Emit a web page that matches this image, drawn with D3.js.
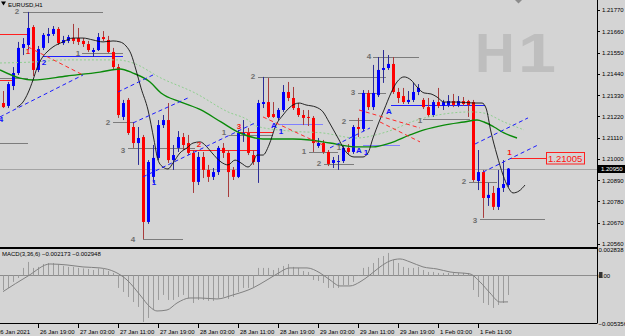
<!DOCTYPE html>
<html>
<head>
<meta charset="utf-8">
<title>EURUSD,H1</title>
<script src="https://cdn.jsdelivr.net/npm/d3@7/dist/d3.min.js"></script>
<style>
  body { margin: 0; background: #d4d4d4; }
  svg { display: block; font-family: "Liberation Sans", Arial, sans-serif; }
  .axis text { font-size: 6px; fill: #000; }
  .axis line { stroke: #000; shape-rendering: crispEdges; }
  .mark { font-size: 8px; font-weight: bold; }
</style>
</head>
<body>
<svg id="chart" width="625" height="336"></svg>
<script>
// hourly bars, index 0 = 26 Jan 12:00, weekend skipped after index 83
const opens = [
  1.21289, 1.21274, 1.21377, 1.21444, 1.21574, 1.21589, 1.21682, 1.21460, 1.21574, 1.21636,
  1.21646, 1.21672, 1.21599, 1.21610, 1.21625, 1.21625, 1.21610, 1.21594, 1.21553, 1.21563,
  1.21630, 1.21615, 1.21553, 1.21475, 1.21217, 1.21305, 1.21165, 1.21082, 1.21113, 1.20674,
  1.20907, 1.21005, 1.21175, 1.21201, 1.20994, 1.21057, 1.21113, 1.21082, 1.21031, 1.20881,
  1.21010, 1.20943, 1.20907, 1.20932, 1.21057, 1.21031, 1.20943, 1.20907, 1.21129, 1.21134,
  1.21020, 1.20984, 1.21284, 1.21294, 1.21232, 1.21212, 1.21253, 1.21346, 1.21315, 1.21263,
  1.21227, 1.21217, 1.21212, 1.21067, 1.21082, 1.21036, 1.20979, 1.20984, 1.20989, 1.21057,
  1.21036, 1.21165, 1.21155, 1.21341, 1.21268, 1.21330, 1.21460, 1.21470, 1.21491, 1.21346,
  1.21325, 1.21294, 1.21305, 1.21346, 1.21305, 1.21268, 1.21227, 1.21294, 1.21274, 1.21279,
  1.21299, 1.21279, 1.21299, 1.21299, 1.21294, 1.20886, 1.20932, 1.20798, 1.20824, 1.20752,
  1.20850, 1.20865
];
const highs = [
  1.21351, 1.21398, 1.21475, 1.21605, 1.21625, 1.21760, 1.21692, 1.21584, 1.21651, 1.21677,
  1.21687, 1.21682, 1.21636, 1.21641, 1.21698, 1.21677, 1.21625, 1.21610, 1.21574, 1.21651,
  1.21661, 1.21636, 1.21574, 1.21491, 1.21305, 1.21315, 1.21191, 1.21165, 1.21124, 1.20994,
  1.21072, 1.21201, 1.21227, 1.21289, 1.21072, 1.21144, 1.21134, 1.21124, 1.21046, 1.21036,
  1.21036, 1.20969, 1.20953, 1.21067, 1.21082, 1.21046, 1.20958, 1.21150, 1.21201, 1.21160,
  1.21046, 1.21305, 1.21424, 1.21418, 1.21294, 1.21263, 1.21382, 1.21398, 1.21372, 1.21289,
  1.21253, 1.21253, 1.21222, 1.21108, 1.21098, 1.21046, 1.21010, 1.21020, 1.21072, 1.21077,
  1.21175, 1.21212, 1.21356, 1.21356, 1.21486, 1.21527, 1.21563, 1.21537, 1.21527, 1.21367,
  1.21367, 1.21351, 1.21393, 1.21387, 1.21315, 1.21315, 1.21305, 1.21367, 1.21305, 1.21330,
  1.21336, 1.21325, 1.21320, 1.21305, 1.21305, 1.21046, 1.20943, 1.20876, 1.20860, 1.20943,
  1.20994, 1.20953
];
const lows = [
  1.21263, 1.21263, 1.21356, 1.21434, 1.21537, 1.21563, 1.21429, 1.21449, 1.21563, 1.21599,
  1.21636, 1.21589, 1.21589, 1.21599, 1.21594, 1.21589, 1.21579, 1.21553, 1.21527, 1.21558,
  1.21610, 1.21548, 1.21460, 1.21212, 1.21201, 1.21124, 1.21057, 1.20969, 1.20586, 1.20664,
  1.20876, 1.20994, 1.21160, 1.20979, 1.20943, 1.21036, 1.21046, 1.21020, 1.20824, 1.20865,
  1.20901, 1.20881, 1.20891, 1.20917, 1.21005, 1.20803, 1.20891, 1.20901, 1.21088, 1.21020,
  1.20969, 1.20876, 1.21263, 1.21212, 1.21212, 1.21201, 1.21243, 1.21299, 1.21253, 1.21217,
  1.21175, 1.21170, 1.21036, 1.21057, 1.21026, 1.20963, 1.20953, 1.20943, 1.20979, 1.21026,
  1.21026, 1.21113, 1.21144, 1.21253, 1.21253, 1.21320, 1.21393, 1.21460, 1.21336, 1.21289,
  1.21284, 1.21284, 1.21294, 1.21330, 1.21258, 1.21217, 1.21217, 1.21263, 1.21253, 1.21268,
  1.21268, 1.21268, 1.21274, 1.21217, 1.20881, 1.20839, 1.20695, 1.20757, 1.20736, 1.20736,
  1.20829, 1.20855
];
const closes = [
  1.21268, 1.21387, 1.21444, 1.21574, 1.21594, 1.21677, 1.21460, 1.21568, 1.21641, 1.21646,
  1.21672, 1.21599, 1.21615, 1.21630, 1.21610, 1.21605, 1.21594, 1.21563, 1.21563, 1.21630,
  1.21620, 1.21553, 1.21475, 1.21227, 1.21289, 1.21134, 1.21082, 1.21108, 1.20674, 1.20984,
  1.21005, 1.21175, 1.21201, 1.20994, 1.21020, 1.21113, 1.21072, 1.21031, 1.20881, 1.21010,
  1.20943, 1.20907, 1.20932, 1.21057, 1.21031, 1.20932, 1.20907, 1.21134, 1.21134, 1.21031,
  1.20984, 1.21289, 1.21294, 1.21217, 1.21217, 1.21253, 1.21346, 1.21315, 1.21263, 1.21227,
  1.21212, 1.21212, 1.21082, 1.21082, 1.21036, 1.20974, 1.20994, 1.20989, 1.21057, 1.21036,
  1.21165, 1.21155, 1.21341, 1.21268, 1.21341, 1.21460, 1.21470, 1.21491, 1.21346, 1.21315,
  1.21294, 1.21305, 1.21346, 1.21367, 1.21268, 1.21227, 1.21294, 1.21274, 1.21294, 1.21299,
  1.21279, 1.21299, 1.21284, 1.21279, 1.20891, 1.20932, 1.20798, 1.20814, 1.20752, 1.20850,
  1.20870, 1.20950
];

// MACD(3,36,6) main values per bar (drawn as histogram)
const macdMain = [
  -0.00162, -0.00139, -0.00072, -0.00028, 0.00084, 0.00151, 0.00084, 0.00095, 0.00128, 0.00139,
  0.00139, 0.00128, 0.00106, 0.00095, 0.00095, 0.00084, 0.00078, 0.00072, 0.00061, 0.00078,
  0.00072, 0.00050, 0.00028, -0.00139, -0.00184, -0.00240, -0.00296, -0.00351, -0.00519, -0.00474,
  -0.00385, -0.00273, -0.00217, -0.00273, -0.00273, -0.00240, -0.00217, -0.00251, -0.00307, -0.00273,
  -0.00273, -0.00284, -0.00284, -0.00251, -0.00240, -0.00262, -0.00240, -0.00184, -0.00139, -0.00139,
  -0.00128, 0.00084, 0.00084, 0.00084, 0.00061, 0.00084, 0.00106, 0.00128, 0.00095, 0.00084,
  0.00050, 0.00039, -0.00050, -0.00061, -0.00084, -0.00139, -0.00139, -0.00139, -0.00106, -0.00106,
  -0.00072, -0.00006, 0.00084, 0.00095, 0.00139, 0.00195, 0.00217, 0.00251, 0.00173, 0.00139,
  0.00095, 0.00084, 0.00084, 0.00095, 0.00061, 0.00039, 0.00039, 0.00028, 0.00028, 0.00028,
  0.00028, 0.00028, 0.00028, 0.00028, -0.00162, -0.00240, -0.00307, -0.00329, -0.00362, -0.00329,
  -0.00307, -0.002173
];
// signal line, read at these bar positions
const signalBars = [0, 5, 9.4, 12.8, 16, 19.4, 22.4, 24.8, 27.4, 29.4, 30.8, 32.8, 34.8, 37.4, 39.4, 42.8, 46, 50, 52.8, 54.8,
  57.4, 60.8, 63.4, 65.4, 67.4, 69.4, 71.4, 73.4, 75.4, 77.4, 79.4, 81.4, 84, 86.8, 89.4, 93.4, 95.4, 97.4, 99.4, 101];
const signalVals = [-0.00180, -0.00006, 0.00128, 0.00117, 0.00095, 0.00084, 0.00039, -0.00050, -0.00217, -0.00351,
  -0.00396, -0.00385, -0.00307, -0.00251, -0.00251, -0.00262, -0.00217, -0.00139, -0.00050, 0.00017,
  0.00084, 0.00084, 0.00028, -0.00050, -0.00117, -0.00117, -0.00072, 0.00006, 0.00095, 0.00162,
  0.00184, 0.00151, 0.00095, 0.00072, 0.00039, 0.00017, -0.00072, -0.00195, -0.00296, -0.002948];

// moving averages and the smoothed black line, read at these bar positions
const greenBars = [-0.6, 3.4, 6, 12.8, 19.4, 23.4, 26, 29.4, 31.6, 35.6, 39.6, 43.6, 47.4, 52, 58, 61.4, 65.4, 70.8, 74, 77.4,
  81.4, 84.2, 88.2, 92.2, 94.8, 96.2, 98.2, 100.2, 102.8];
const greenVals = [1.21460, 1.21418, 1.21408, 1.21429, 1.21449, 1.21465, 1.21444, 1.21398, 1.21341, 1.21294,
  1.21253, 1.21191, 1.21134, 1.21103, 1.21103, 1.21098, 1.21082, 1.21062, 1.21062, 1.21082,
  1.21124, 1.21150, 1.21175, 1.21191, 1.21201, 1.21191, 1.21165, 1.21134, 1.21108];
const dottedBars = [-0.6, 6, 12.8, 19.4, 22.8, 26, 31.6, 38.4, 45, 49, 50.6, 57.4, 64, 70.6, 76.6, 82.8, 89.6, 93.6, 96.2, 100.2, 104.2];
const dottedVals = [1.21496, 1.21501, 1.21512, 1.21512, 1.21512, 1.21496, 1.21418, 1.21341, 1.21243, 1.21201,
  1.21170, 1.21144, 1.21134, 1.21108, 1.21139, 1.21201, 1.21237, 1.21243, 1.21237, 1.21191, 1.21150];
const blackBars = [2.8, 4, 5, 6, 6.8, 7.8, 8.8, 10, 12, 14, 16, 18, 20, 22, 23.4, 24.6, 25.6, 26.6, 27.6, 29,
  30.2, 31, 32, 33, 34, 35.4, 36.8, 38, 39.4, 40.6, 41.8, 43.6, 45, 46.4, 47.6, 49, 50, 50.8, 52, 53.2,
  54.6, 56, 57.2, 59.2, 60.6, 62.6, 64, 65.2, 67, 68.6, 70.2, 72, 73, 74, 75.2, 76.2, 77.6, 78.8, 80.2, 81.6,
  82.8, 84.2, 85.6, 86.8, 88.2, 90.8, 94.2, 95.8, 96.6, 97.6, 98.8, 100, 101, 102, 103.2, 104.4];
const blackVals = [1.21268, 1.21294, 1.21341, 1.21408, 1.21470, 1.21522, 1.21553, 1.21579, 1.21605, 1.21625,
  1.21625, 1.21615, 1.21605, 1.21610, 1.21605, 1.21584, 1.21543, 1.21460, 1.21367, 1.21253,
  1.21098, 1.20994, 1.20958, 1.20948, 1.20979, 1.21031, 1.21057, 1.21082, 1.21088, 1.21067,
  1.21031, 1.20984, 1.20969, 1.20994, 1.20979, 1.20958, 1.20984, 1.21020, 1.21020, 1.21072,
  1.21175, 1.21227, 1.21263, 1.21289, 1.21279, 1.21268, 1.21243, 1.21191, 1.21108, 1.21036,
  1.21010, 1.21010, 1.21031, 1.21108, 1.21191, 1.21253, 1.21341, 1.21398, 1.21424, 1.21408,
  1.21372, 1.21341, 1.21336, 1.21320, 1.21294, 1.21294, 1.21289, 1.21289, 1.21263, 1.21139,
  1.21020, 1.20917, 1.20855, 1.20824, 1.20834, 1.20865];

// drawn objects: horizontal levels [fromBar, toBar, price]
const grayLevels = [
  [4, 20, 1.21760], [15.8, 24, 1.21548], [-0.6, 5, 1.21418], [-0.6, 5, 1.21082], [22, 26, 1.21191],
  [25, 38.4, 1.21057], [28, 36, 1.20586], [45.2, 54, 1.21124], [51, 76.6, 1.21424], [61.2, 67, 1.21036],
  [64.2, 70.2, 1.20974], [69.2, 74, 1.21201], [71, 76.6, 1.21341], [74, 83.2, 1.21527], [84, 93.4, 1.21206],
  [93.2, 98.8, 1.20881], [95.4, 108.4, 1.20690]
];
const redLevels = [[-0.6, 4.8, 1.21646], [-0.6, 2.4, 1.21408], [37.4, 51, 1.21046], [47, 54, 1.21139], [101.4, 108.7, 1.21005]];
const blueLevels = [[8, 24, 1.21532], [77.6, 96.4, 1.21279]];
const paleBlueLevels = [[55.2, 64, 1.21180], [72, 79.4, 1.21072]];
// trend lines [bar1, price1, bar2, price2]
const blueTrends = [
  [-0.6, 1.21217, 16, 1.21434], [23, 1.21346, 30, 1.21434], [26, 1.21186, 37.4, 1.21320],
  [28, 1.20907, 50.4, 1.21186], [65.4, 1.21057, 73.4, 1.21160], [94.4, 1.21077, 105, 1.21212],
  [96, 1.20932, 107, 1.21072]
];
const redTrends = [
  [5, 1.21579, 16, 1.21434], [52, 1.21217, 64, 1.21072], [71.2, 1.21253, 83.4, 1.21160], [75.4, 1.21191, 83.4, 1.21088]
];
// labels [text, bar, price]
const grayMarks = [
  ['2', 2.8, 1.21760], ['1', 15, 1.21543], ['2', 21, 1.21186], ['3', 24, 1.21046], ['4', 26, 1.20581],
  ['1', 44.2, 1.21134], ['2', 50, 1.21424], ['1', 60.2, 1.21036], ['2', 63.2, 1.20974], ['1', 67.2, 1.21057],
  ['2', 68.2, 1.21191], ['3', 70, 1.21341], ['4', 73.2, 1.21527], ['1', 83.4, 1.21201], ['2', 92.2, 1.20881],
  ['3', 94.4, 1.20684]
];
const redMarks = [['1', 5, 1.21553], ['2', 39.2, 1.21072], ['3', 47.2, 1.21170], ['1', 101.3, 1.21031]];
const blueMarks = [
  ['4', -0.4, 1.21206], ['2', 8.2, 1.21501], ['1', 30.2, 1.20876], ['A', 54.2, 1.21175], ['1', 55.6, 1.21144],
  ['A', 71.2, 1.21041], ['1', 72.6, 1.21031], ['A', 77.2, 1.21243]
];
const targetPrice = 1.21005;
const lastPrice = 1.20950;

const priceTicks = [1.21770, 1.21660, 1.21550, 1.21440, 1.21330, 1.21220, 1.21110, 1.21000, 1.20890, 1.20780, 1.20670, 1.20560];
const timeBars = [-1, 7, 15, 23, 31, 39, 47, 55, 63, 71, 79, 87, 95];
const timeLabels = ['26 Jan 2021', '26 Jan 19:00', '27 Jan 03:00', '27 Jan 11:00', '27 Jan 19:00', '28 Jan 03:00',
  '28 Jan 11:00', '28 Jan 19:00', '29 Jan 03:00', '29 Jan 11:00', '29 Jan 19:00', '1 Feb 03:00', '1 Feb 11:00'];
const macdTicks = [0.002838, 0, -0.005356];

const svg = d3.select('#chart');
const width = 625, height = 336;
const plotRight = 597, mainBottom = 247, macdTop = 249, macdBottom = 323.5;

const x = d3.scaleLinear().domain([0, 100]).range([3, 503]);
const y = d3.scaleLinear().domain([1.20560, 1.21770]).range([244, 10]);
const ym = d3.scaleLinear().domain([-0.005356, 0.002838]).range([macdBottom, 250]);

svg.append('rect').attr('width', width).attr('height', height).attr('fill', '#d4d4d4');

const defs = svg.append('defs');
defs.append('clipPath').attr('id', 'clipMain').append('rect')
  .attr('x', 0).attr('y', 0).attr('width', plotRight).attr('height', mainBottom);
defs.append('clipPath').attr('id', 'clipMacd').append('rect')
  .attr('x', 0).attr('y', macdTop).attr('width', plotRight).attr('height', macdBottom - macdTop);

const main = svg.append('g').attr('clip-path', 'url(#clipMain)');

// watermark
main.append('text').attr('x', 475).attr('y', 72).attr('font-size', 55).attr('font-weight', 'bold')
  .attr('fill', '#bebebe').text('H');
main.append('text').attr('x', 518).attr('y', 72).attr('font-size', 55).attr('font-weight', 'bold')
  .attr('fill', '#bebebe').attr('textLength', 38).attr('lengthAdjust', 'spacingAndGlyphs').text('1');

// bid line
main.append('line').attr('x1', 0).attr('x2', plotRight).attr('y1', Math.round(y(lastPrice)) + 0.5).attr('y2', Math.round(y(lastPrice)) + 0.5)
  .attr('stroke', '#a4a4a4');

function hLevels(data, color) {
  main.append('g').selectAll('line').data(data).join('line')
    .attr('x1', d => x(d[0])).attr('x2', d => x(d[1]))
    .attr('y1', d => Math.round(y(d[2])) + 0.5).attr('y2', d => Math.round(y(d[2])) + 0.5)
    .attr('stroke', color).attr('stroke-width', 1);
}
hLevels(grayLevels, '#7c7c7c');
hLevels(redLevels, '#ff2020');
hLevels(blueLevels, '#2020ff');
hLevels(paleBlueLevels, '#8080ff');

// candles
const bars = d3.range(opens.length).map(i => ({ i, o: opens[i], h: highs[i], l: lows[i], c: closes[i] }));
const candles = main.append('g');
candles.selectAll('rect.wick').data(bars).join('rect').attr('class', 'wick')
  .attr('x', d => Math.round(x(d.i)))
  .attr('y', d => y(d.h))
  .attr('width', 1)
  .attr('height', d => y(d.l) - y(d.h))
  .attr('fill', d => d.c >= d.o ? '#2c2c96' : '#a83c3c');
candles.selectAll('rect.body').data(bars).join('rect').attr('class', 'body')
  .attr('x', d => Math.round(x(d.i)) - 1)
  .attr('y', d => y(Math.max(d.o, d.c)))
  .attr('width', 3)
  .attr('height', d => Math.max(1, Math.abs(y(d.o) - y(d.c))))
  .attr('fill', d => d.c >= d.o ? '#0000ff' : '#ff0000');

// indicator lines
const line = d3.line().x(d => x(d[0])).y(d => y(d[1])).curve(d3.curveMonotoneX);
main.append('path').datum(d3.zip(dottedBars, dottedVals)).attr('d', line)
  .attr('fill', 'none').attr('stroke', '#8fcf8f').attr('stroke-dasharray', '2,2');
main.append('path').datum(d3.zip(greenBars, greenVals)).attr('d', line)
  .attr('fill', 'none').attr('stroke', '#0a8a0a').attr('stroke-width', 1.4);
main.append('path').datum(d3.zip(blackBars, blackVals)).attr('d', line)
  .attr('fill', 'none').attr('stroke', '#111').attr('stroke-width', 0.9);

// trend lines
function trends(data, color) {
  main.append('g').selectAll('line').data(data).join('line')
    .attr('x1', d => x(d[0])).attr('y1', d => y(d[1]))
    .attr('x2', d => x(d[2])).attr('y2', d => y(d[3]))
    .attr('stroke', color).attr('stroke-dasharray', '4,3');
}
trends(blueTrends, '#1a1aff');
trends(redTrends, '#ff2a2a');

// labels
function marks(data, color) {
  main.append('g').selectAll('text').data(data).join('text').attr('class', 'mark')
    .attr('x', d => x(d[1])).attr('y', d => y(d[2]))
    .attr('text-anchor', 'middle').attr('dominant-baseline', 'central')
    .attr('fill', color).text(d => d[0]);
}
marks(grayMarks, '#6e6e6e');
marks(redMarks, '#ff1010');
marks(blueMarks, '#1010ff');

// target price box
const ty = Math.round(y(targetPrice));
main.append('rect').attr('x', 546.5).attr('y', ty - 5.5).attr('width', 38).attr('height', 11.5)
  .attr('fill', 'none').attr('stroke', '#ff2020');
main.append('text').attr('x', 548).attr('y', ty + 0.5).attr('dominant-baseline', 'central')
  .attr('font-size', 9.5).attr('fill', '#ff1010').text(d3.format('.5f')(targetPrice));

// title and chart shift marker
svg.append('path').attr('d', 'M1,1.5 L6,1.5 L3.5,5.5 Z').attr('fill', '#000');
svg.append('text').attr('x', 8).attr('y', 6.5).attr('font-size', 6).attr('fill', '#000').text('EURUSD,H1');
svg.append('path').attr('d', 'M515,0 L522,0 L518.5,3.5 Z').attr('fill', '#8c8c8c');

// MACD panel
const macd = svg.append('g').attr('clip-path', 'url(#clipMacd)');
macd.append('line').attr('x1', 0).attr('x2', plotRight).attr('y1', Math.round(ym(0)) + 0.5).attr('y2', Math.round(ym(0)) + 0.5)
  .attr('stroke', '#8c8c8c');
macd.selectAll('rect.hist').data(macdMain).join('rect').attr('class', 'hist')
  .attr('x', (d, i) => Math.round(x(i)))
  .attr('y', d => Math.min(ym(0), ym(d)))
  .attr('width', 1)
  .attr('height', d => Math.abs(ym(d) - ym(0)))
  .attr('fill', '#9c9c9c');
const sline = d3.line().x(d => x(d[0])).y(d => ym(d[1])).curve(d3.curveMonotoneX);
macd.append('path').datum(d3.zip(signalBars, signalVals)).attr('d', sline)
  .attr('fill', 'none').attr('stroke', '#808080').attr('stroke-width', 1);
const f6 = d3.format('.6f');
svg.append('text').attr('x', 2).attr('y', 256).attr('font-size', 6).attr('fill', '#000')
  .text(`MACD(3,36,6) ${f6(macdMain[macdMain.length - 1])} ${f6(signalVals[signalVals.length - 1])}`);

// frame lines
svg.append('rect').attr('x', 0).attr('y', mainBottom).attr('width', plotRight).attr('height', 2).attr('fill', '#000');
svg.append('line').attr('x1', 0).attr('x2', plotRight).attr('y1', 323.5).attr('y2', 323.5).attr('stroke', '#000');
svg.append('line').attr('x1', plotRight + 0.5).attr('x2', plotRight + 0.5).attr('y1', 0).attr('y2', 323.5).attr('stroke', '#000');

// price axis
svg.append('g').attr('class', 'axis').attr('transform', `translate(${plotRight},0)`)
  .call(d3.axisRight(y).tickValues(priceTicks).tickSize(3).tickPadding(2).tickFormat(d3.format('.5f')))
  .call(g => g.select('.domain').remove());

// last price box
svg.append('rect').attr('x', 598).attr('y', Math.round(y(lastPrice)) - 4).attr('width', 27).attr('height', 8).attr('fill', '#000');
svg.append('text').attr('x', 601).attr('y', Math.round(y(lastPrice)) + 2.2).attr('font-size', 6).attr('fill', '#fff')
  .text(d3.format('.5f')(lastPrice));

// MACD axis
svg.append('g').attr('class', 'axis').attr('transform', `translate(${plotRight},0)`)
  .call(d3.axisRight(ym).tickValues(macdTicks).tickSize(0).tickPadding(1.5)
    .tickFormat(d => d === 0 ? '0.00' : f6(d)))
  .call(g => g.select('.domain').remove());
svg.append('rect').attr('x', 599).attr('y', Math.round(ym(0)) - 3).attr('width', 3.5).attr('height', 6).attr('fill', '#333');

// time axis
svg.append('g').attr('class', 'axis').attr('transform', `translate(0,${macdBottom})`)
  .call(d3.axisBottom(x).tickValues(timeBars).tickSize(4).tickPadding(2).tickFormat((d, i) => timeLabels[i]))
  .call(g => g.select('.domain').remove())
  .call(g => g.selectAll('text').attr('text-anchor', 'start').attr('dx', (d, i) => i === 0 ? -1.5 : 1.5));
</script>
</body>
</html>
